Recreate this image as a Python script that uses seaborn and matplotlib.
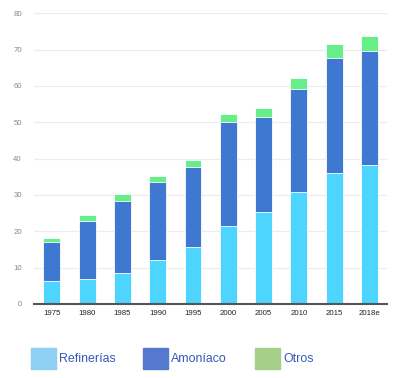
import numpy as np
import pandas as pd
import seaborn as sns
import matplotlib.pyplot as plt
from matplotlib.patches import Rectangle

# data
years = ["1975", "1980", "1985", "1990", "1995", "2000", "2005", "2010", "2015", "2018e"]
refinerias = [6.2, 6.9, 8.5, 12.1, 15.8, 21.5, 25.3, 30.8, 36.0, 38.3]
amoniaco = [10.8, 16.0, 19.9, 21.4, 21.9, 28.5, 26.1, 28.4, 31.8, 31.4]
otros = [1.1, 1.5, 1.9, 1.8, 1.9, 2.4, 2.6, 3.0, 3.8, 4.0]
series_names = ["Refinerías", "Amoníaco", "Otros"]

bar_colors = ["#4dd4ff", "#3f78d1", "#66ee88"]
legend_colors = ["#8ecff3", "#5579cf", "#a8cf8a"]

df = pd.DataFrame({"year": years, "Refinerías": refinerias,
                   "Amoníaco": amoniaco, "Otros": otros})
# cumulative tops for stacked look
df["top_ref"] = df["Refinerías"]
df["top_amon"] = df["top_ref"] + df["Amoníaco"]
df["top_otros"] = df["top_amon"] + df["Otros"]

sns.set_style("white")
plt.rcParams["font.family"] = ["Liberation Sans", "DejaVu Sans"]

fig = plt.figure(figsize=(4.01, 3.78), dpi=100)
ax = fig.add_axes([0.0855, 0.1958, 0.8795, 0.769])

# draw tallest first so lower segments sit on top
for col, c in zip(["top_otros", "top_amon", "top_ref"], bar_colors[::-1]):
    sns.barplot(data=df, x="year", y=col, color=c, width=0.48,
                edgecolor="white", linewidth=0.6, saturation=1, ax=ax)

ax.set_ylim(0, 80)
ax.set_xlim(-0.5, len(years) - 0.5)
ax.set_yticks(np.arange(0, 81, 10))
ax.yaxis.grid(True, color="#ececec", linewidth=0.9)
ax.set_axisbelow(True)
ax.set_xlabel("")
ax.set_ylabel("")

for s in ["top", "right", "left"]:
    ax.spines[s].set_visible(False)
ax.spines["bottom"].set_color("#555555")
ax.spines["bottom"].set_linewidth(1.5)

ax.tick_params(axis="y", length=0, labelsize=5.6, labelcolor="#888888", pad=9)
ax.tick_params(axis="x", which="major", length=0, labelsize=5.6,
               labelcolor="#222222", pad=4)
ax.set_xticks(np.arange(-0.5, len(years) - 1, 1.0), minor=True)
ax.tick_params(axis="x", which="minor", length=5, width=0.9,
               color="#333333", direction="out")

# legend drawn as boxes + labels under the chart
for i, (name, c) in enumerate(zip(series_names, legend_colors)):
    x0 = (31 + 112 * i) / 401
    fig.patches.append(Rectangle((x0, (378 - 369) / 378), 25 / 401, 21 / 378,
                                 transform=fig.transFigure, color=c))
    fig.text(x0 + 28 / 401, (378 - 358.5) / 378, name, fontsize=8.9,
             color="#3358b8", va="center", ha="left")

fig.savefig("out.png", dpi=100)
